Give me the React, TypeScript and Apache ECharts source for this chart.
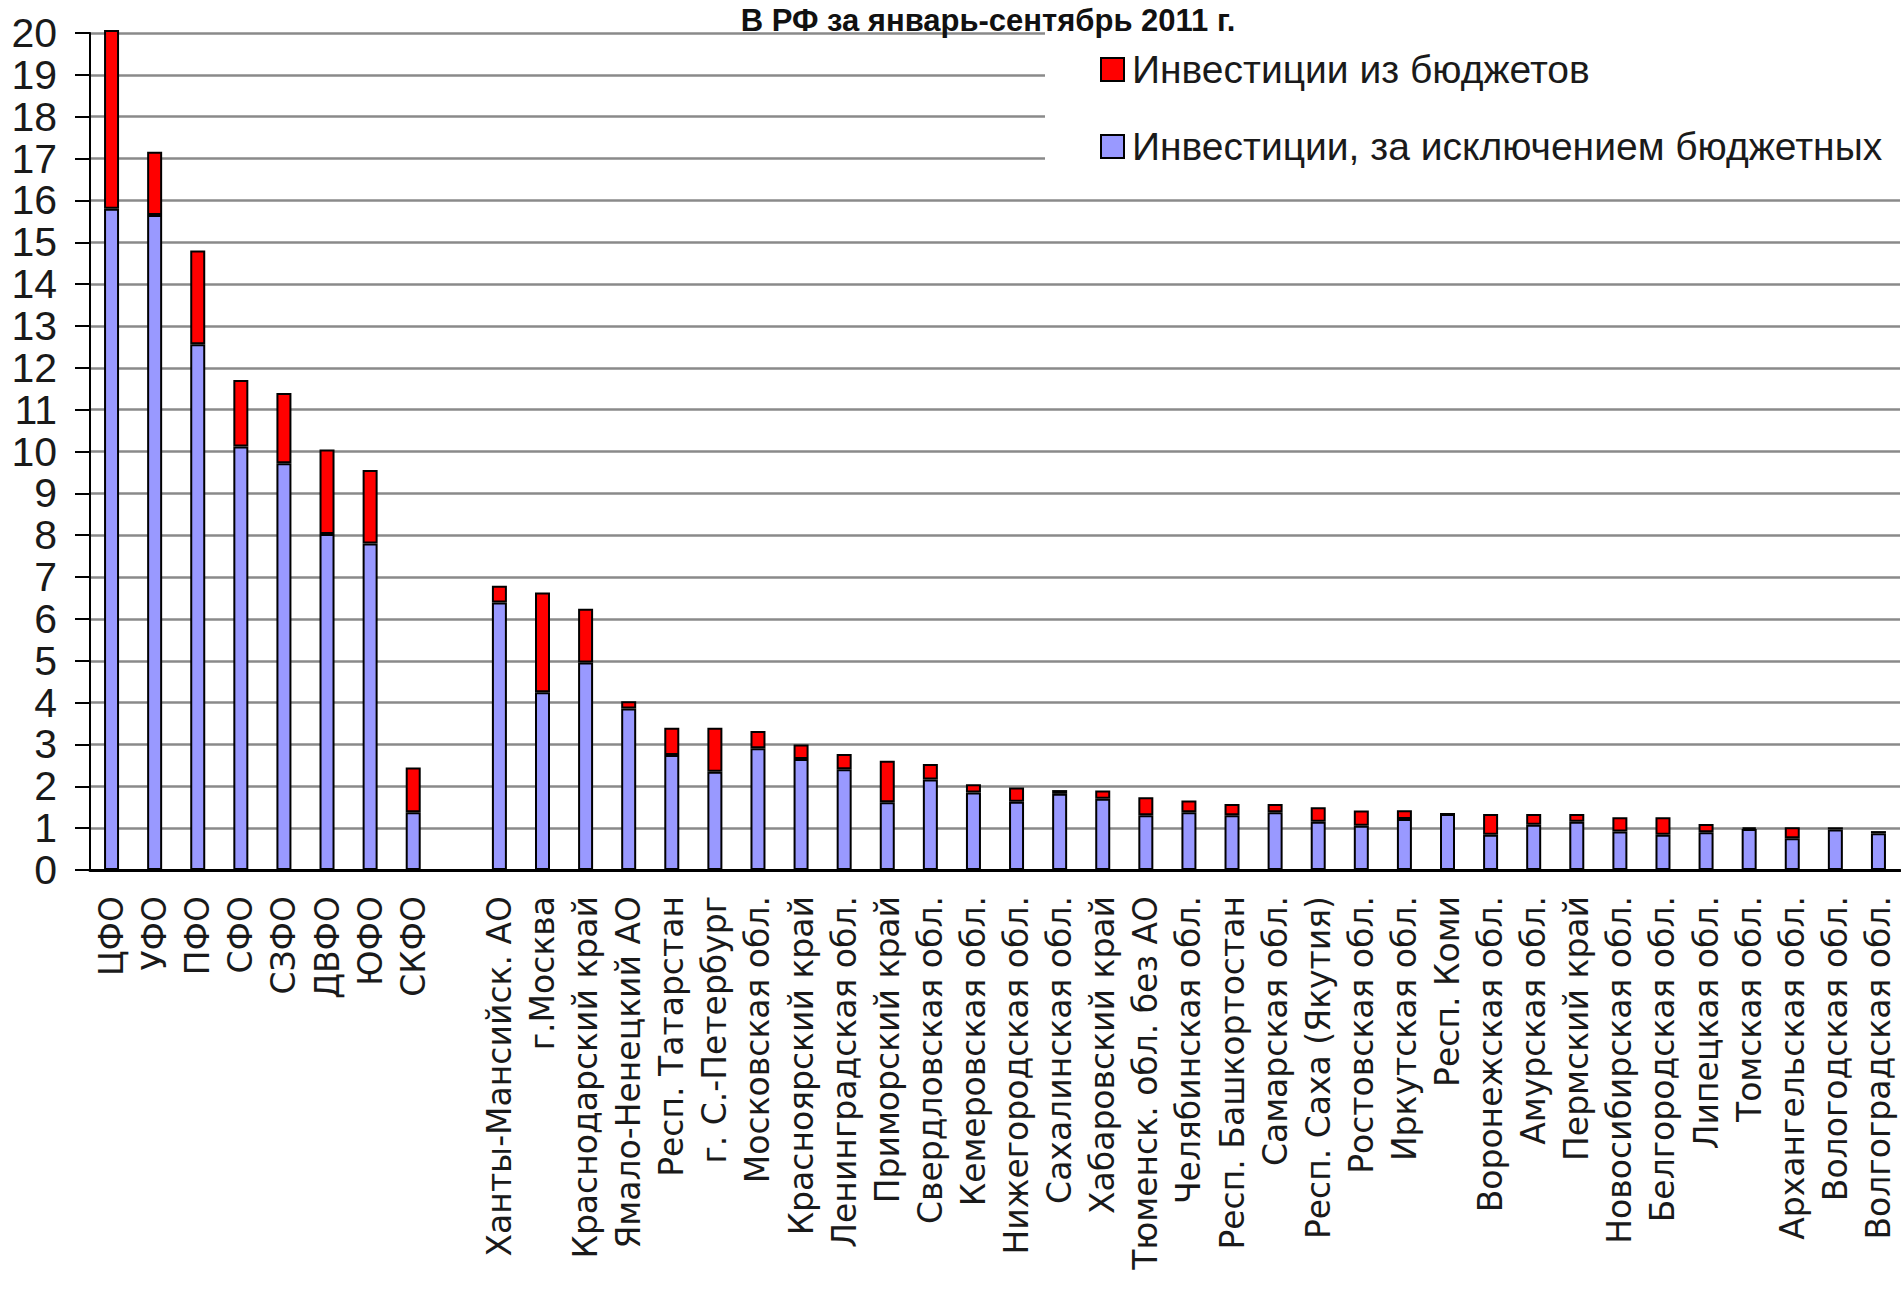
import React, { useEffect, useRef } from "react";
import * as echarts from "echarts";

const categories: string[] = [
  "ЦФО", "УФО", "ПФО", "СФО", "СЗФО", "ДВФО", "ЮФО", "СКФО", "",
  "Ханты-Мансийск. АО", "г.Москва", "Краснодарский край", "Ямало-Ненецкий АО",
  "Респ. Татарстан", "г. С.-Петербург", "Московская обл.", "Красноярский край",
  "Ленинградская обл.", "Приморский край", "Свердловская обл.", "Кемеровская обл.",
  "Нижегородская обл.", "Сахалинская обл.", "Хабаровский край", "Тюменск. обл. без АО",
  "Челябинская обл.", "Респ. Башкортостан", "Самарская обл.", "Респ. Саха (Якутия)",
  "Ростовская обл.", "Иркутская обл.", "Респ. Коми", "Воронежская обл.",
  "Амурская обл.", "Пермский край", "Новосибирская обл.", "Белгородская обл.",
  "Липецкая обл.", "Томская обл.", "Архангельская обл.", "Вологодская обл.",
  "Волгоградская обл.",
];

// Инвестиции, за исключением бюджетных
const nonBudget: (number | null)[] = [
  15.8, 15.65, 12.56, 10.12, 9.72, 8.03, 7.8, 1.38, null,
  6.39, 4.25, 4.96, 3.86, 2.75, 2.35, 2.91, 2.65, 2.41, 1.62, 2.16, 1.85,
  1.63, 1.82, 1.7, 1.31, 1.38, 1.31, 1.38, 1.15, 1.06, 1.22, 1.34, 0.84,
  1.08, 1.15, 0.92, 0.84, 0.9, 0.98, 0.76, 0.97, 0.88,
];

// Инвестиции из бюджетов
const budget: (number | null)[] = [
  4.27, 1.51, 2.24, 1.59, 1.68, 2.02, 1.76, 1.07, null,
  0.4, 2.38, 1.28, 0.17, 0.65, 1.05, 0.41, 0.35, 0.36, 0.99, 0.37, 0.2,
  0.34, 0.09, 0.2, 0.43, 0.28, 0.27, 0.2, 0.35, 0.36, 0.21, 0.0, 0.5,
  0.26, 0.19, 0.34, 0.42, 0.2, 0.04, 0.26, 0.05, 0.05,
];

const yTicks = { min: 0, max: 20, interval: 1 };

const titleText = "В РФ за январь-сентябрь 2011 г.";
const legendBudget = "Инвестиции из бюджетов";
const legendNonBudget = "Инвестиции, за исключением бюджетных";

const FONT = '"Liberation Sans", Arial, sans-serif';

export default function App() {
  const ref = useRef<HTMLDivElement>(null);

  useEffect(() => {
    document.body.style.margin = "0";
    document.body.style.overflow = "hidden";
    const el = ref.current;
    if (!el) return;
    const chart = echarts.init(el, undefined, { renderer: "svg" });
    chart.setOption({
      animation: false,
      backgroundColor: "#ffffff",
      grid: { left: 90, right: 1, top: 33, bottom: 441, containLabel: false },
      graphic: [
        {
          type: "text",
          x: 988,
          y: 5,
          z: 10,
          style: {
            text: titleText,
            fill: "#111",
            font: `bold 31px ${FONT}`,
            textAlign: "center",
            textVerticalAlign: "top",
          },
        },
      ],
      legend: {
        data: [legendBudget, legendNonBudget],
        orient: "vertical",
        left: 1045,
        top: 24,
        padding: [26, 60, 20, 55],
        backgroundColor: "#ffffff",
        icon: "rect",
        itemWidth: 23,
        itemHeight: 23,
        itemGap: 38,
        selectedMode: false,
        textStyle: { fontSize: 39, fontFamily: FONT, color: "#1a1a1a", padding: [0, 0, 0, 3] },
      },
      xAxis: {
        type: "category",
        data: categories,
        axisLine: { show: true, lineStyle: { color: "#000", width: 3 } },
        axisTick: { show: false },
        axisLabel: {
          interval: 0,
          rotate: 90,
          fontSize: 33,
          fontFamily: '"DejaVu Sans", sans-serif',
          color: "#1a1a1a",
          margin: 26,
        },
        splitLine: { show: false },
      },
      yAxis: {
        type: "value",
        min: yTicks.min,
        max: yTicks.max,
        interval: yTicks.interval,
        axisLine: { show: true, lineStyle: { color: "#000", width: 2 } },
        axisTick: { show: true, length: 15, lineStyle: { color: "#000", width: 2 } },
        axisLabel: { fontSize: 41, fontFamily: FONT, color: "#1a1a1a", margin: 33 },
        splitLine: { show: true, lineStyle: { color: "#8a8a8a", width: 2.5 } },
      },
      series: [
        {
          name: legendNonBudget,
          type: "bar",
          stack: "total",
          data: nonBudget,
          barWidth: 15,
          clip: false,
          itemStyle: { color: "#9999ff", borderColor: "#000", borderWidth: 2 },
        },
        {
          name: legendBudget,
          type: "bar",
          stack: "total",
          data: budget,
          barWidth: 15,
          clip: false,
          itemStyle: { color: "#ff0000", borderColor: "#000", borderWidth: 2 },
        },
      ],
    });
    return () => chart.dispose();
  }, []);

  return <div ref={ref} style={{ width: 1901, height: 1311 }} />;
}
